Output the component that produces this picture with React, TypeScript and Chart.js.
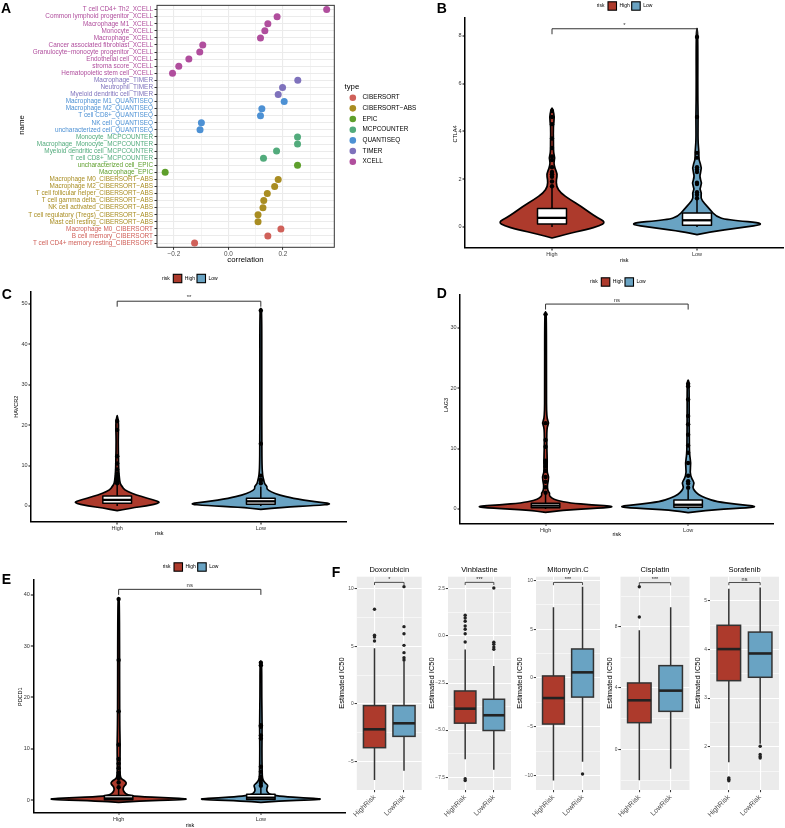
import React, { useEffect, useRef } from 'react';
import { Chart, registerables } from 'chart.js';

Chart.register(...registerables);

const PAGE_W = 785;
const PAGE_H = 828;
const FF = "'Liberation Sans', Arial, Helvetica, sans-serif";
const RED = '#AD3A2C';
const BLUE = '#69A3C3';

// ===================== Panel A data =====================
const cellNames = [
  'T cell CD4+ Th2_XCELL',
  'Common lymphoid progenitor_XCELL',
  'Macrophage M1_XCELL',
  'Monocyte_XCELL',
  'Macrophage_XCELL',
  'Cancer associated fibroblast_XCELL',
  'Granulocyte\u2212monocyte progenitor_XCELL',
  'Endothelial cell_XCELL',
  'stroma score_XCELL',
  'Hematopoietic stem cell_XCELL',
  'Macrophage_TIMER',
  'Neutrophil_TIMER',
  'Myeloid dendritic cell_TIMER',
  'Macrophage M1_QUANTISEQ',
  'Macrophage M2_QUANTISEQ',
  'T cell CD8+_QUANTISEQ',
  'NK cell_QUANTISEQ',
  'uncharacterized cell_QUANTISEQ',
  'Monocyte_MCPCOUNTER',
  'Macrophage_Monocyte_MCPCOUNTER',
  'Myeloid dendritic cell_MCPCOUNTER',
  'T cell CD8+_MCPCOUNTER',
  'uncharacterized cell_EPIC',
  'Macrophage_EPIC',
  'Macrophage M0_CIBERSORT\u2212ABS',
  'Macrophage M2_CIBERSORT\u2212ABS',
  'T cell follicular helper_CIBERSORT\u2212ABS',
  'T cell gamma delta_CIBERSORT\u2212ABS',
  'NK cell activated_CIBERSORT\u2212ABS',
  'T cell regulatory (Tregs)_CIBERSORT\u2212ABS',
  'Mast cell resting_CIBERSORT\u2212ABS',
  'Macrophage M0_CIBERSORT',
  'B cell memory_CIBERSORT',
  'T cell CD4+ memory resting_CIBERSORT',
];
const cellTypes = [
  'XCELL', 'XCELL', 'XCELL', 'XCELL', 'XCELL', 'XCELL', 'XCELL', 'XCELL', 'XCELL', 'XCELL',
  'TIMER', 'TIMER', 'TIMER',
  'QUANTISEQ', 'QUANTISEQ', 'QUANTISEQ', 'QUANTISEQ', 'QUANTISEQ',
  'MCPCOUNTER', 'MCPCOUNTER', 'MCPCOUNTER', 'MCPCOUNTER',
  'EPIC', 'EPIC',
  'CIBERSORT\u2212ABS', 'CIBERSORT\u2212ABS', 'CIBERSORT\u2212ABS', 'CIBERSORT\u2212ABS',
  'CIBERSORT\u2212ABS', 'CIBERSORT\u2212ABS', 'CIBERSORT\u2212ABS',
  'CIBERSORT', 'CIBERSORT', 'CIBERSORT',
];
const correlations = [
  0.361, 0.179, 0.145, 0.134, 0.118, -0.094, -0.105, -0.145, -0.182, -0.205,
  0.255, 0.199, 0.183,
  0.205, 0.123, 0.118, -0.099, -0.104,
  0.254, 0.254, 0.177, 0.129,
  0.254, -0.232,
  0.183, 0.170, 0.143, 0.130, 0.127, 0.109, 0.109,
  0.193, 0.145, -0.124,
];
const typeNames = ['CIBERSORT', 'CIBERSORT\u2212ABS', 'EPIC', 'MCPCOUNTER', 'QUANTISEQ', 'TIMER', 'XCELL'];
const typeColors = ['#D0615A', '#A98D22', '#5E9F2C', '#52AB7C', '#4D91D4', '#7F72BC', '#B04E9D'];
const corrMajor = [-0.2, 0, 0.2];
const corrMinor = [-0.1, 0.1, 0.3];
const corrLabels = ['\u22120.2', '0.0', '0.2'];

// ===================== Violin panels data =====================
const riskGroups = ['High', 'Low'];

// CTLA4 (B)
const ctla4HighY = [-0.46, -0.3, -0.1, 0.05, 0.2, 0.4, 0.6, 0.86, 1.14, 1.42, 1.7, 2.0, 2.2, 2.45, 2.7, 2.9, 3.1, 3.6, 4.2, 4.6, 4.9, 4.97];
const ctla4HighW = [0, 0.1, 0.24, 0.33, 0.37, 0.31, 0.26, 0.2, 0.126, 0.06, 0.03, 0.03, 0.038, 0.02, 0.012, 0.02, 0.01, 0.01, 0.008, 0.018, 0.006, 0];
const ctla4LowY = [-0.32, -0.2, -0.05, 0.14, 0.3, 0.45, 0.72, 1.0, 1.2, 1.42, 1.6, 1.84, 2.1, 2.47, 2.8, 3.1, 3.6, 4.6, 5.5, 8.0, 8.3];
const ctla4LowW = [0, 0.1, 0.28, 0.5, 0.2, 0.13, 0.09, 0.05, 0.025, 0.032, 0.018, 0.035, 0.015, 0.035, 0.012, 0.014, 0.006, 0.008, 0.005, 0.006, 0];
const ctla4HighBox = [0, 0.125, 0.38, 0.77, 1.63];
const ctla4LowBox = [0, 0.07, 0.28, 0.585, 1.14];
const ctla4HighOut = [1.7, 1.9, 2.1, 2.2, 2.3, 2.5, 2.8, 2.95, 3.3, 3.7, 4.3, 4.6, 4.85];
const ctla4LowOut = [1.2, 1.35, 1.45, 1.8, 1.85, 2.3, 2.4, 2.5, 2.9, 3.1, 4.6, 7.95];
const ctla4Ticks = [0, 2, 4, 6, 8];

// HAVCR2 (C)
const havcr2HighY = [-1.15, -0.5, 0.0, 0.83, 1.5, 2.3, 3.1, 4.0, 4.8, 5.5, 7, 9, 12, 16, 19, 21, 22.3];
const havcr2HighW = [0, 0.1, 0.2, 0.31, 0.25, 0.17, 0.1, 0.05, 0.035, 0.02, 0.015, 0.01, 0.009, 0.007, 0.009, 0.009, 0];
const havcr2LowY = [-0.83, -0.3, 0.1, 0.5, 1.0, 1.9, 2.7, 3.5, 4.2, 4.8, 5.5, 6.5, 7.5, 10, 15, 30, 48.3, 48.8];
const havcr2LowW = [0, 0.15, 0.38, 0.51, 0.38, 0.22, 0.13, 0.07, 0.04, 0.045, 0.025, 0.02, 0.012, 0.008, 0.007, 0.006, 0.007, 0];
const havcr2HighBox = [0, 0.66, 1.5, 2.48, 5.2];
const havcr2LowBox = [0, 0.41, 1.15, 1.9, 4.8];
const havcr2HighOut = [5.6, 6.0, 6.5, 7.0, 7.5, 8.0, 9.0, 10.5, 12.3, 18.8, 21.0];
const havcr2LowOut = [5.6, 6.3, 6.5, 7.5, 15.4, 48.3];
const havcr2Ticks = [0, 10, 20, 30, 40, 50];

// LAG3 (D)
const lag3HighY = [-0.55, -0.2, 0.15, 0.39, 0.7, 1.0, 1.4, 1.8, 2.3, 2.6, 3.0, 4.0, 5.3, 6.0, 8.0, 10.0, 13.5, 14.2, 15.0, 20.0, 32.2, 32.6];
const lag3HighW = [0, 0.12, 0.38, 0.5, 0.32, 0.17, 0.08, 0.04, 0.025, 0.03, 0.015, 0.012, 0.025, 0.01, 0.012, 0.009, 0.008, 0.025, 0.007, 0.006, 0.006, 0];
const lag3LowY = [-0.6, -0.2, 0.15, 0.4, 0.8, 1.2, 1.8, 2.4, 3.0, 3.6, 4.3, 5.0, 6.0, 7.6, 9.0, 12.0, 15.0, 21.0, 21.3];
const lag3LowW = [0, 0.12, 0.38, 0.5, 0.33, 0.2, 0.12, 0.07, 0.045, 0.03, 0.045, 0.025, 0.012, 0.02, 0.009, 0.008, 0.007, 0.007, 0];
const lag3HighBox = [0, 0.22, 0.55, 0.94, 2.6];
const lag3LowBox = [0, 0.3, 0.7, 1.5, 3.2];
const lag3HighOut = [2.7, 3.6, 4.5, 5.3, 6.3, 7.0, 7.6, 8.0, 10.3, 11.4, 14.2, 32.2];
const lag3LowOut = [3.5, 4.2, 4.6, 5.5, 7.6, 9.3, 10.5, 12.3, 14.0, 15.4, 18.1, 20.3, 20.7];
const lag3Ticks = [0, 10, 20, 30];

// PDCD1 (E)
const pdcd1HighY = [-0.46, -0.2, 0.05, 0.2, 0.4, 0.7, 1.0, 1.5, 2.0, 2.6, 3.0, 3.4, 3.8, 4.2, 5, 7, 10.8, 15, 39.2, 39.5];
const pdcd1HighW = [0, 0.15, 0.42, 0.5, 0.35, 0.12, 0.06, 0.04, 0.03, 0.035, 0.05, 0.055, 0.04, 0.015, 0.01, 0.009, 0.011, 0.007, 0.006, 0];
const pdcd1LowY = [-0.45, -0.2, 0.05, 0.2, 0.4, 0.7, 1.0, 1.5, 2.0, 2.5, 2.9, 3.3, 4, 5, 10, 14.5, 20, 26.8, 27.1];
const pdcd1LowW = [0, 0.13, 0.37, 0.44, 0.3, 0.15, 0.07, 0.045, 0.04, 0.045, 0.05, 0.03, 0.012, 0.009, 0.007, 0.009, 0.006, 0.006, 0];
const pdcd1HighBox = [0, 0.05, 0.3, 0.9, 2.2];
const pdcd1LowBox = [0, 0.1, 0.45, 1.1, 2.6];
const pdcd1HighOut = [2.5, 3.4, 4.2, 4.8, 5.3, 6.2, 7.1, 8.0, 10.8, 17.3, 27.3, 39.2];
const pdcd1LowOut = [2.8, 3.3, 3.8, 4.2, 4.6, 5.5, 6.5, 12.0, 12.6, 14.3, 14.6, 26.3, 26.8];
const pdcd1Ticks = [0, 10, 20, 30, 40];

// ===================== Panel F data =====================
const drugNames = ['Doxorubicin', 'Vinblastine', 'Mitomycin.C', 'Cisplatin', 'Sorafenib'];
const riskLevels = ['HighRisk', 'LowRisk'];
// [lower whisker, Q1, median, Q3, upper whisker]
const doxHighBox = [-6.57, -3.78, -2.19, -0.14, 4.82];
const doxLowBox = [-5.77, -2.8, -1.67, -0.14, 3.7];
const doxHighOut = [5.45, 5.8, 5.95, 8.2];
const doxLowOut = [3.8, 4.0, 4.44, 5.07, 6.08, 6.69, 10.15];
const vinHighBox = [-6.55, -4.63, -3.86, -2.92, -0.72];
const vinLowBox = [-7.1, -5.02, -4.21, -3.36, -1.59];
const vinHighOut = [-7.58, -7.68, -0.32, 0.12, 0.36, 0.53, 0.78, 0.96, 1.1];
const vinLowOut = [-0.33, -0.44, -0.59, -0.7, 2.55];
const mitoHighBox = [-10.53, -4.73, -2.06, 0.21, 7.27];
const mitoLowBox = [-8.61, -1.96, 0.58, 2.98, 9.37];
const mitoHighOut: number[] = [];
const mitoLowOut = [-9.85];
const cisHighBox = [-2.02, 1.74, 3.2, 4.33, 7.76];
const cisLowBox = [-1.26, 2.48, 3.83, 5.46, 9.26];
const cisHighOut = [8.63, 10.6];
const cisLowOut: number[] = [];
const sorHighBox = [1.68, 3.36, 4.01, 4.5, 5.25];
const sorLowBox = [2.06, 3.43, 3.92, 4.36, 5.28];
const sorHighOut = [1.3, 1.33, 1.36];
const sorLowOut = [1.77, 1.8, 1.84, 2.01];
const drugPValues = ['*', '***', '***', '***', 'ns'];
const drugBracketY = [10.52, 2.85, 9.81, 10.87, 5.38];
const drugYRange = [[-7.44, 11.01], [-8.18, 3.15], [-11.5, 10.4], [-2.65, 11.26], [1.11, 5.5]];
const doxTicks = [-5, 0, 5, 10];
const doxMinor = [-2.5, 2.5, 7.5];
const doxLabels = ['\u22125', '0', '5', '10'];
const vinTicks = [-7.5, -5, -2.5, 0, 2.5];
const vinMinor = [-6.25, -3.75, -1.25, 1.25];
const vinLabels = ['\u22127.5', '\u22125.0', '\u22122.5', '0.0', '2.5'];
const mitoTicks = [-10, -5, 0, 5, 10];
const mitoMinor = [-7.5, -2.5, 2.5, 7.5];
const mitoLabels = ['\u221210', '\u22125', '0', '5', '10'];
const cisTicks = [0, 4, 8];
const cisMinor = [-2, 2, 6, 10];
const cisLabels = ['0', '4', '8'];
const sorTicks = [2, 3, 4, 5];
const sorMinor = [1.5, 2.5, 3.5, 4.5];
const sorLabels = ['2', '3', '4', '5'];

// ===================== helpers =====================
function smooth(ctx: CanvasRenderingContext2D, pts: number[][]) {
  ctx.moveTo(pts[0][0], pts[0][1]);
  for (let i = 1; i < pts.length - 1; i++) {
    const mx = (pts[i][0] + pts[i + 1][0]) / 2;
    const my = (pts[i][1] + pts[i + 1][1]) / 2;
    ctx.quadraticCurveTo(pts[i][0], pts[i][1], mx, my);
  }
  ctx.lineTo(pts[pts.length - 1][0], pts[pts.length - 1][1]);
}

function overlayPlugin(items: any[]) {
  return {
    id: 'overlay',
    afterDraw(chart: any) {
      const ctx = chart.ctx as CanvasRenderingContext2D;
      items.forEach((it) => {
        ctx.save();
        if (it.kind === 'rect') {
          ctx.fillStyle = it.fill;
          ctx.fillRect(it.x, it.y, it.w, it.h);
          if (it.stroke) {
            ctx.strokeStyle = it.stroke;
            ctx.lineWidth = 1.1;
            ctx.strokeRect(it.x, it.y, it.w, it.h);
          }
        } else if (it.kind === 'circle') {
          ctx.fillStyle = it.fill;
          ctx.beginPath();
          ctx.arc(it.x, it.y, it.r, 0, Math.PI * 2);
          ctx.fill();
        } else {
          ctx.translate(it.x, it.y);
          if (it.rot) ctx.rotate((it.rot * Math.PI) / 180);
          ctx.font = `${it.bold ? 'bold ' : ''}${it.size}px ${FF}`;
          ctx.fillStyle = it.color || '#000';
          ctx.textAlign = it.align || 'center';
          ctx.textBaseline = it.base || 'middle';
          ctx.fillText(it.t, 0, 0);
        }
        ctx.restore();
      });
    },
  };
}

function shapesPlugin(spec: any) {
  return {
    id: 'shapes',
    beforeDraw(chart: any) {
      if (!spec.bg) return;
      const a = chart.chartArea;
      const ctx = chart.ctx;
      ctx.save();
      ctx.fillStyle = spec.bg;
      ctx.fillRect(a.left, a.top, a.right - a.left, a.bottom - a.top);
      ctx.restore();
    },
    beforeDatasetsDraw(chart: any) {
      const ctx = chart.ctx as CanvasRenderingContext2D;
      const sx = chart.scales.x;
      const sy = chart.scales.y;
      const X = (v: number) => sx.getPixelForValue(v);
      const Y = (v: number) => sy.getPixelForValue(v);
      ctx.save();
      (spec.violins || []).forEach((v: any) => {
        const pts: number[][] = [];
        v.ys.forEach((yy: number, i: number) => pts.push([X(v.x + v.ws[i]), Y(yy)]));
        for (let i = v.ys.length - 1; i >= 0; i--) pts.push([X(v.x - v.ws[i]), Y(v.ys[i])]);
        ctx.beginPath();
        smooth(ctx, pts);
        ctx.closePath();
        ctx.fillStyle = v.fill;
        ctx.fill();
        ctx.lineJoin = 'round';
        ctx.lineWidth = spec.violinLw;
        ctx.strokeStyle = '#000';
        ctx.stroke();
      });
      (spec.boxes || []).forEach((b: any) => {
        const [lo, q1, med, q3, hi] = b.v;
        const cx = X(b.x);
        ctx.strokeStyle = b.stroke;
        ctx.lineWidth = b.lw;
        ctx.beginPath();
        ctx.moveTo(cx, Y(hi));
        ctx.lineTo(cx, Y(q3));
        ctx.moveTo(cx, Y(q1));
        ctx.lineTo(cx, Y(lo));
        ctx.stroke();
        const l = X(b.x - b.half);
        const r = X(b.x + b.half);
        ctx.fillStyle = b.fill;
        ctx.fillRect(l, Y(q3), r - l, Y(q1) - Y(q3));
        ctx.strokeRect(l, Y(q3), r - l, Y(q1) - Y(q3));
        ctx.lineWidth = b.medLw;
        ctx.strokeStyle = b.medColor || b.stroke;
        ctx.beginPath();
        ctx.moveTo(l, Y(med));
        ctx.lineTo(r, Y(med));
        ctx.stroke();
      });
      ctx.restore();
    },
    afterDatasetsDraw(chart: any) {
      const ctx = chart.ctx as CanvasRenderingContext2D;
      const sx = chart.scales.x;
      const sy = chart.scales.y;
      ctx.save();
      (spec.brackets || []).forEach((b: any) => {
        const y = sy.getPixelForValue(b.y);
        const x1 = sx.getPixelForValue(b.x1);
        const x2 = sx.getPixelForValue(b.x2);
        ctx.strokeStyle = b.color;
        ctx.lineWidth = b.lw;
        ctx.beginPath();
        ctx.moveTo(x1, y + b.tip);
        ctx.lineTo(x1, y);
        ctx.lineTo(x2, y);
        ctx.lineTo(x2, y + b.tip);
        ctx.stroke();
        ctx.fillStyle = b.color;
        ctx.font = `${b.size}px ${FF}`;
        ctx.textAlign = 'center';
        ctx.textBaseline = 'alphabetic';
        ctx.fillText(b.label, (x1 + x2) / 2, y - b.gap);
      });
      if (spec.frame) {
        const a = chart.chartArea;
        ctx.strokeStyle = spec.frame.color;
        ctx.lineWidth = spec.frame.lw;
        ctx.strokeRect(a.left, a.top, a.right - a.left, a.bottom - a.top);
      }
      ctx.restore();
    },
  };
}

function valueAxis(min: number, max: number, major: number[], minor: number[], labels: string[], fixed: number, st: any, extra: any = {}) {
  const all = [...major, ...minor].sort((a, b) => a - b);
  const isMajor = (v: number) => major.some((m) => Math.abs(m - v) < 1e-9);
  return {
    type: 'linear',
    min,
    max,
    bounds: 'data',
    ...extra,
    afterBuildTicks: (s: any) => {
      s.ticks = all.map((v) => ({ value: v }));
    },
    afterFit: (s: any) => {
      if (s.isHorizontal()) s.height = fixed;
      else s.width = fixed;
    },
    ticks: {
      autoSkip: false,
      maxRotation: st.rotation || 0,
      minRotation: st.rotation || 0,
      padding: st.pad,
      color: st.color,
      font: { family: FF, size: st.size },
      callback: (v: number) => {
        const i = major.findIndex((m) => Math.abs(m - v) < 1e-9);
        return i >= 0 ? labels[i] : '';
      },
    },
    grid: {
      display: true,
      drawOnChartArea: !!st.grid,
      color: st.grid ? st.grid.color : 'rgba(0,0,0,0)',
      lineWidth: (c: any) => (st.grid && c.tick ? (isMajor(c.tick.value) ? st.grid.major : st.grid.minor) : 0),
      drawTicks: true,
      tickLength: st.tickLen,
      tickWidth: st.tickWidth || 1,
      tickColor: (c: any) => (c.tick && isMajor(c.tick.value) ? st.tickColor : 'rgba(0,0,0,0)'),
    },
    border: st.border ? { display: true, color: st.border.color, width: st.border.width } : { display: false },
  };
}

function pointsDS(xv: number, vals: number[], r: number, color: string) {
  return {
    data: vals.map((v) => ({ x: xv, y: v })),
    pointRadius: r,
    pointHoverRadius: r,
    backgroundColor: color,
    borderColor: color,
    borderWidth: 0,
  };
}

function makeConfig(o: any) {
  return {
    type: 'scatter',
    data: { datasets: o.datasets },
    options: {
      responsive: false,
      maintainAspectRatio: false,
      animation: false,
      events: [],
      layout: {
        autoPadding: false,
        padding: { left: o.L - o.yW, top: o.T, right: PAGE_W - o.R, bottom: PAGE_H - o.B - o.xH },
      },
      plugins: { legend: { display: false }, tooltip: { enabled: false } },
      scales: { x: o.x, y: o.y },
    },
    plugins: o.plugins,
  };
}

function riskLegend(x: number, y: number) {
  return [
    { t: 'risk', x, y, size: 5, align: 'left' },
    { kind: 'rect', x: x + 11.3, y: y - 4.2, w: 8.5, h: 8.4, fill: RED, stroke: '#000' },
    { t: 'High', x: x + 22.8, y, size: 5, align: 'left' },
    { kind: 'rect', x: x + 35, y: y - 4.2, w: 8.5, h: 8.4, fill: BLUE, stroke: '#000' },
    { t: 'Low', x: x + 46.5, y, size: 5, align: 'left' },
  ];
}

// ===================== chart builders =====================
function chartA() {
  const yIdx = cellNames.map((_, i) => i);
  const yStyle = {
    size: 6.4,
    color: (c: any) => typeColors[typeNames.indexOf(cellTypes[c.index])],
    tickLen: 2.5,
    pad: 1.5,
    tickColor: '#333',
    grid: { color: '#EBEBEB', major: 1, minor: 1 },
  };
  const xStyle = {
    size: 6.4,
    color: '#4D4D4D',
    tickLen: 2.5,
    pad: 0.5,
    tickColor: '#333',
    grid: { color: '#EBEBEB', major: 1.1, minor: 0.55 },
  };
  const legendItems: any[] = [{ t: 'type', x: 344.5, y: 87, size: 7.8, align: 'left' }];
  typeNames.forEach((tn, i) => {
    const y = 97.7 + i * 10.67;
    legendItems.push({ kind: 'circle', x: 352.8, y, r: 3.3, fill: typeColors[i] });
    legendItems.push({ t: tn, x: 362.5, y, size: 6.4, align: 'left' });
  });
  return makeConfig({
    L: 157, T: 3.3, R: 334.3, B: 247.3, yW: 150, xH: 12,
    x: valueAxis(-0.262, 0.389, corrMajor, corrMinor, corrLabels, 12, xStyle),
    y: valueAxis(-0.6, 33.6, yIdx, [], cellNames, 150, yStyle, { reverse: true }),
    datasets: typeNames.map((tn, ti) => ({
      data: correlations.map((c, i) => ({ x: c, y: i })).filter((_, i) => cellTypes[i] === tn),
      pointRadius: 3.5,
      pointHoverRadius: 3.5,
      backgroundColor: typeColors[ti],
      borderColor: typeColors[ti],
      borderWidth: 0,
    })),
    plugins: [
      shapesPlugin({ frame: { color: '#333', lw: 1 } }),
      overlayPlugin([
        { t: 'A', x: 1, y: 13.3, size: 14, bold: true, align: 'left', base: 'alphabetic' },
        { t: 'name', x: 21.7, y: 125, size: 7.8, rot: -90 },
        { t: 'correlation', x: 245.5, y: 260, size: 7.8 },
        ...legendItems,
      ]),
    ],
  });
}

const vStyle = {
  size: 5.5,
  color: '#333',
  tickLen: 2.5,
  pad: 1,
  tickColor: '#000',
  border: { color: '#000', width: 1.5 },
  grid: null,
};

function violinChart(o: any) {
  return makeConfig({
    L: o.L, T: o.T, R: o.R, B: o.B, yW: 30, xH: o.xH,
    x: valueAxis(-0.6, 1.6, [0, 1], [], riskGroups, o.xH, vStyle),
    y: valueAxis(o.yMin, o.yMax, o.ticks, [], o.ticks.map(String), 30, vStyle),
    datasets: [pointsDS(0, o.hOut, 2.2, '#000'), pointsDS(1, o.lOut, 2.2, '#000')],
    plugins: [
      shapesPlugin({
        violinLw: 1.7,
        violins: [
          { x: 0, ys: o.hY, ws: o.hW, fill: RED },
          { x: 1, ys: o.lY, ws: o.lW, fill: BLUE },
        ],
        boxes: [
          { x: 0, half: 0.1, v: o.hBox, fill: '#FFFFFF', stroke: '#000', lw: 1.5, medLw: 2.3 },
          { x: 1, half: 0.1, v: o.lBox, fill: '#FFFFFF', stroke: '#000', lw: 1.5, medLw: 2.3 },
        ],
        brackets: [{ x1: 0, x2: 1, y: o.bracketY, tip: 5.5, label: o.label, size: 6, lw: 1, color: '#333', gap: 2 }],
      }),
      overlayPlugin([
        { t: o.letter, x: o.letterX, y: o.letterY, size: 14, bold: true, align: 'left', base: 'alphabetic' },
        { t: o.yTitle, x: o.yTitleX, y: o.yTitleY, size: 5.5, rot: -90 },
        { t: 'risk', x: o.xTitleX, y: o.xTitleY, size: 5.5 },
        ...riskLegend(o.legX, o.legY),
      ]),
    ],
  });
}

function chartB() {
  return violinChart({
    L: 465, T: 18, R: 784, B: 248, xH: 20, yMin: -0.88, yMax: 8.74, ticks: ctla4Ticks,
    hY: ctla4HighY, hW: ctla4HighW, lY: ctla4LowY, lW: ctla4LowW,
    hBox: ctla4HighBox, lBox: ctla4LowBox, hOut: ctla4HighOut, lOut: ctla4LowOut,
    bracketY: 8.29, label: '*',
    letter: 'B', letterX: 436.7, letterY: 13.3,
    yTitle: 'CTLA4', yTitleX: 455, yTitleY: 134, xTitleX: 624.3, xTitleY: 260,
    legX: 596.7, legY: 6,
  });
}
function chartC() {
  return violinChart({
    L: 31, T: 291.5, R: 347, B: 522, xH: 20, yMin: -3.96, yMax: 53.0, ticks: havcr2Ticks,
    hY: havcr2HighY, hW: havcr2HighW, lY: havcr2LowY, lW: havcr2LowW,
    hBox: havcr2HighBox, lBox: havcr2LowBox, hOut: havcr2HighOut, lOut: havcr2LowOut,
    bracketY: 50.6, label: '**',
    letter: 'C', letterX: 1.7, letterY: 299,
    yTitle: 'HAVCR2', yTitleX: 16.7, yTitleY: 406.7, xTitleX: 159.3, xTitleY: 533.3,
    legX: 162, legY: 278.5,
  });
}
function chartD() {
  return violinChart({
    L: 460, T: 295, R: 773.7, B: 523.3, xH: 20, yMin: -2.37, yMax: 35.4, ticks: lag3Ticks,
    hY: lag3HighY, hW: lag3HighW, lY: lag3LowY, lW: lag3LowW,
    hBox: lag3HighBox, lBox: lag3LowBox, hOut: lag3HighOut, lOut: lag3LowOut,
    bracketY: 33.9, label: 'ns',
    letter: 'D', letterX: 436.7, letterY: 298.3,
    yTitle: 'LAG3', yTitleX: 446.7, yTitleY: 405, xTitleX: 616.7, xTitleY: 534,
    legX: 590, legY: 282,
  });
}
function chartE() {
  return violinChart({
    L: 33.3, T: 579.3, R: 346.2, B: 812.3, xH: 15.7, yMin: -2.4, yMax: 43.06, ticks: pdcd1Ticks,
    hY: pdcd1HighY, hW: pdcd1HighW, lY: pdcd1LowY, lW: pdcd1LowW,
    hBox: pdcd1HighBox, lBox: pdcd1LowBox, hOut: pdcd1HighOut, lOut: pdcd1LowOut,
    bracketY: 41.1, label: 'ns',
    letter: 'E', letterX: 1.7, letterY: 584.3,
    yTitle: 'PDCD1', yTitleX: 20, yTitleY: 696.7, xTitleX: 190, xTitleY: 825.5,
    legX: 162.7, legY: 567,
  });
}

const fLeft = [356.8, 448, 536, 620.5, 710];
const fRight = [421.7, 511, 600, 689.5, 779];
const fYTitleX = [342.3, 432.3, 520, 610, 698];

function chartF(i: number) {
  const highBoxes = [doxHighBox, vinHighBox, mitoHighBox, cisHighBox, sorHighBox];
  const lowBoxes = [doxLowBox, vinLowBox, mitoLowBox, cisLowBox, sorLowBox];
  const highOuts = [doxHighOut, vinHighOut, mitoHighOut, cisHighOut, sorHighOut];
  const lowOuts = [doxLowOut, vinLowOut, mitoLowOut, cisLowOut, sorLowOut];
  const majors = [doxTicks, vinTicks, mitoTicks, cisTicks, sorTicks];
  const minors = [doxMinor, vinMinor, mitoMinor, cisMinor, sorMinor];
  const labels = [doxLabels, vinLabels, mitoLabels, cisLabels, sorLabels];
  const yStyle = {
    size: 4.8, color: '#4D4D4D', tickLen: 2.2, pad: 1, tickColor: '#333',
    grid: { color: '#FFFFFF', major: 1.1, minor: 0.55 }, border: null,
  };
  const xStyle = {
    size: 7, color: '#4D4D4D', tickLen: 2.2, pad: 1, tickColor: '#333', rotation: 45,
    grid: { color: '#FFFFFF', major: 1.1, minor: 0.55 }, border: null,
  };
  const T = 576.7;
  const B = 790;
  const L = fLeft[i];
  const R = fRight[i];
  const items: any[] = [
    { t: drugNames[i], x: (L + R) / 2, y: 570, size: 7.5 },
    { t: 'Estimated IC50', x: fYTitleX[i], y: 683, size: 7.5, rot: -90 },
  ];
  if (i === 0) items.push({ t: 'F', x: 331.7, y: 576.7, size: 14, bold: true, align: 'left', base: 'alphabetic' });
  return makeConfig({
    L, T, R, B, yW: 14, xH: PAGE_H - B,
    x: valueAxis(-0.6, 1.6, [0, 1], [], riskLevels, PAGE_H - B, xStyle),
    y: valueAxis(drugYRange[i][0], drugYRange[i][1], majors[i], minors[i], labels[i], 14, yStyle),
    datasets: [pointsDS(0, highOuts[i], 1.7, '#222'), pointsDS(1, lowOuts[i], 1.7, '#222')],
    plugins: [
      shapesPlugin({
        bg: '#EBEBEB',
        boxes: [
          { x: 0, half: 0.375, v: highBoxes[i], fill: RED, stroke: '#333', lw: 1.5, medLw: 2.6, medColor: '#222' },
          { x: 1, half: 0.375, v: lowBoxes[i], fill: BLUE, stroke: '#333', lw: 1.5, medLw: 2.6, medColor: '#222' },
        ],
        brackets: [{ x1: 0, x2: 1, y: drugBracketY[i], tip: 2.7, label: drugPValues[i], size: 5.5, lw: 0.8, color: '#222', gap: 1.5 }],
      }),
      overlayPlugin(items),
    ],
  });
}

const builders = [chartA, chartB, chartC, chartD, chartE, () => chartF(0), () => chartF(1), () => chartF(2), () => chartF(3), () => chartF(4)];

function ChartLayer({ make }: { make: () => any }) {
  const ref = useRef<HTMLCanvasElement>(null);
  useEffect(() => {
    const chart = new Chart(ref.current as HTMLCanvasElement, make());
    return () => chart.destroy();
  }, [make]);
  return (
    <canvas
      ref={ref}
      width={PAGE_W}
      height={PAGE_H}
      style={{ position: 'absolute', left: 0, top: 0, width: PAGE_W, height: PAGE_H, pointerEvents: 'none' }}
    />
  );
}

export default function App() {
  return (
    <div style={{ position: 'absolute', left: 0, top: 0, width: PAGE_W, height: PAGE_H, background: '#FFFFFF', overflow: 'hidden' }}>
      {builders.map((mk, i) => (
        <ChartLayer key={i} make={mk} />
      ))}
    </div>
  );
}
